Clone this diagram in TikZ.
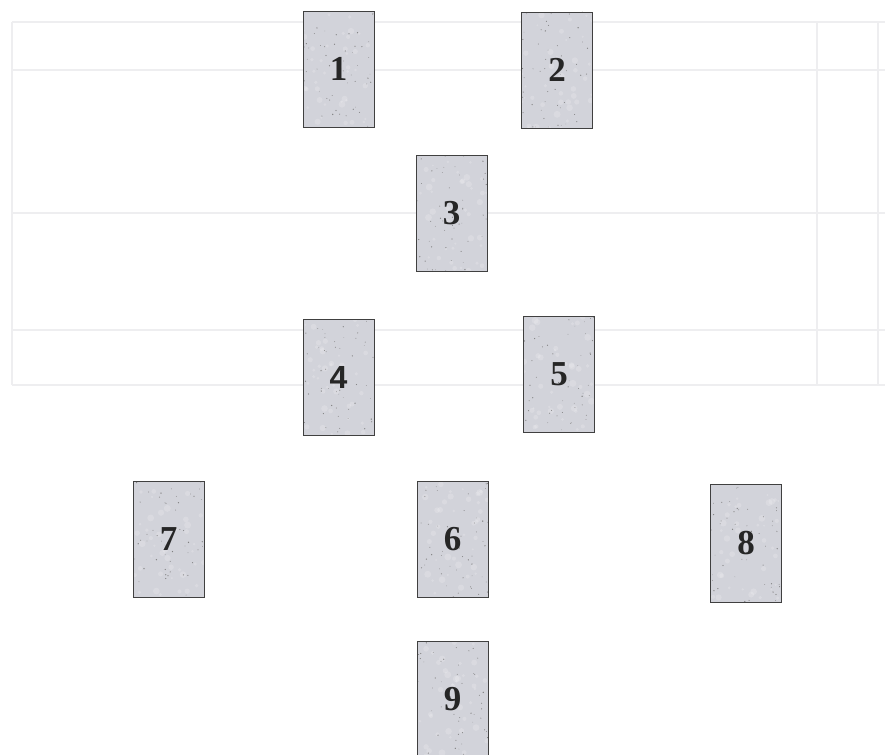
\documentclass[tikz,border=0pt]{standalone}
\usepackage{fontspec}
\setmainfont{Liberation Serif}
\newfontfamily\sansnum{Liberation Sans}
\definecolor{cardgray}{HTML}{D2D3DA}
\definecolor{faint}{HTML}{EEEEF0}
\tikzset{
  card/.style={draw=black!75, line width=0.7pt, fill=cardgray,
    minimum width=71pt, minimum height=116pt, inner sep=0pt,
    font=\fontsize{35}{35}\selectfont\bfseries, text=black!85,
    path picture={
      \foreach \i in {1,...,40}{
        \pgfmathsetmacro\rx{rnd*71}\pgfmathsetmacro\ry{rnd*116}\pgfmathsetmacro\rs{1+rnd*2.5}
        \fill[white, opacity=0.18] (path picture bounding box.south west) ++(\rx pt,\ry pt) circle (\rs pt);
      }
      \foreach \i in {1,...,50}{
        \pgfmathsetmacro\rx{rnd*71}\pgfmathsetmacro\ry{rnd*116}\pgfmathsetmacro\rs{0.3+rnd*0.4}
        \fill[black!50] (path picture bounding box.south west) ++(\rx pt,\ry pt) circle (\rs pt);
      }
    }},
  tableline/.style={draw=faint, line width=1.2pt}
}
\begin{document}
\begin{tikzpicture}[x=1pt, y=-1pt]
\pgfmathsetseed{11}
\useasboundingbox[fill=white] (0,0) rectangle (885,754);
% faint bleed-through table
\coordinate (t1) at (12,22); \coordinate (t2) at (885,22);
\coordinate (t3) at (12,70); \coordinate (t4) at (885,70);
\coordinate (t5) at (12,213); \coordinate (t6) at (885,213);
\coordinate (t7) at (12,330); \coordinate (t8) at (885,330);
\coordinate (t9) at (12,385); \coordinate (t10) at (885,385);
\coordinate (v1) at (817,22); \coordinate (v2) at (817,385);
\coordinate (v3) at (878,22); \coordinate (v4) at (878,385);
\draw[tableline] (t1) -- (t2) (t3) -- (t4) (t5) -- (t6) (t7) -- (t8) (t9) -- (t10);
\draw[tableline] (t1) -- (t9) (v1) -- (v2) (v3) -- (v4);
% cards
\node[card] (c1) at (338.5,69) {1};
\node[card] (c2) at (557,70) {2};
\node[card] (c3) at (451.5,213) {3};
\node[card, font=\fontsize{32}{32}\selectfont\sansnum\bfseries] (c4) at (338.5,377) {4};
\node[card] (c5) at (559,374) {5};
\node[card] (c7) at (168.5,539.5) {7};
\node[card] (c6) at (452.5,539.5) {6};
\node[card, minimum height=118pt] (c8) at (746,543.5) {8};
\node[card] (c9) at (452.5,699) {9};
\end{tikzpicture}
\end{document}
